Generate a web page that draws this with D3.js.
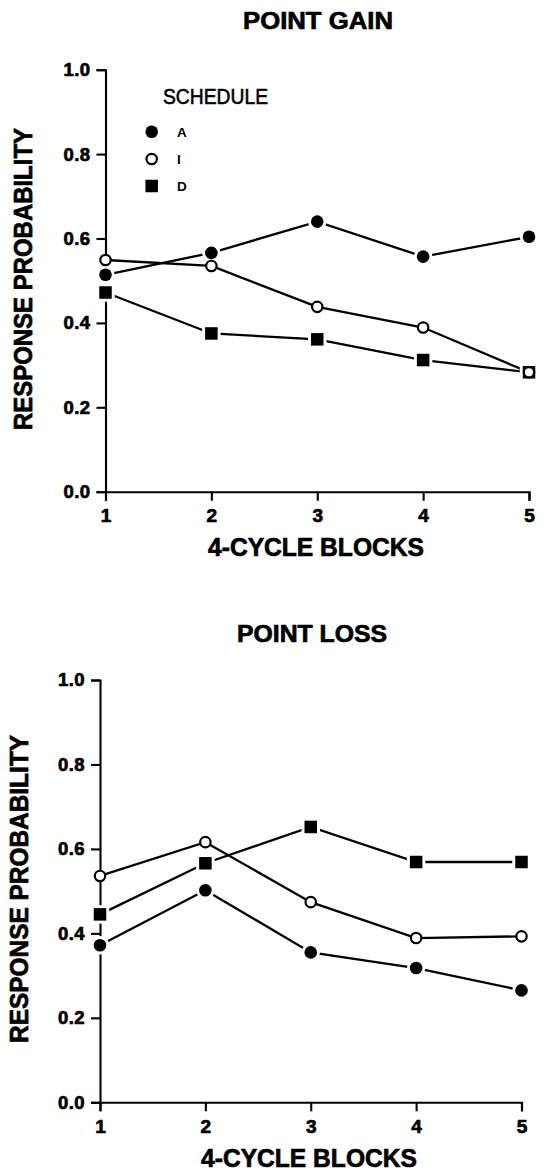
<!DOCTYPE html>
<html>
<head>
<meta charset="utf-8">
<script src="https://cdn.jsdelivr.net/npm/d3@7"></script>
<style>
  body { margin: 0; background: #fff; }
  svg { display: block; }
  text { font-family: "Liberation Sans", Arial, sans-serif; fill: #000; }
  .heavy { stroke: #000; stroke-width: 0.7; }
</style>
</head>
<body>
<div class="container"></div>
<script>
// data
const blocks = [1, 2, 3, 4, 5];
const schedules = ["A", "I", "D"];
const yTicks = [0, 0.2, 0.4, 0.6, 0.8, 1.0];

const gainA = [0.514, 0.566, 0.640, 0.557, 0.604];
const gainI = [0.549, 0.535, 0.438, 0.389, 0.283];
const gainD = [0.472, 0.375, 0.361, 0.312, 0.283];

const lossA = [0.372, 0.502, 0.355, 0.318, 0.265];
const lossI = [0.536, 0.616, 0.474, 0.389, 0.393];
const lossD = [0.445, 0.566, 0.652, 0.569, 0.569];

const W = 547, H = 1173;

const svg = d3.select(".container")
  .append("svg")
  .attr("width", W)
  .attr("height", H);

// marker style per schedule
const markerType = { A: "dot", I: "ring", D: "square" };

function drawMarker(g, type, x, y, halo) {
  if (type == "dot") {
    if (halo) g.append("circle").attr("cx", x).attr("cy", y).attr("r", 9.2).attr("fill", "#fff");
    g.append("circle").attr("cx", x).attr("cy", y).attr("r", 6.3).attr("fill", "#000");
  } else if (type == "ring") {
    g.append("circle").attr("cx", x).attr("cy", y).attr("r", 5.2)
      .attr("fill", "#fff").attr("stroke", "#000").attr("stroke-width", 2.2);
  } else {
    const s = 12.5;
    if (halo) g.append("rect").attr("x", x - s / 2 - 3).attr("y", y - s / 2 - 3)
      .attr("width", s + 6).attr("height", s + 6).attr("fill", "#fff");
    g.append("rect").attr("x", x - s / 2).attr("y", y - s / 2)
      .attr("width", s).attr("height", s).attr("fill", "#000");
  }
}

function panel(opt) {
  const x = d3.scaleLinear().domain([1, 5]).range(opt.xr);
  const y = d3.scaleLinear().domain([0, 1]).range(opt.yr);
  const g = svg.append("g");

  // axes
  const yAxis = d3.axisLeft(y).tickValues(yTicks).tickFormat(d3.format(".1f"))
    .tickSize(9).tickSizeOuter(9).tickPadding(6);
  const ya = g.append("g").attr("transform", `translate(${opt.xr[0]},0)`).call(yAxis);

  const xAxis = d3.axisBottom(x).tickValues(blocks).tickFormat(d3.format("d"))
    .tickSize(9).tickSizeOuter(9).tickPadding(8);
  const xa = g.append("g").attr("transform", `translate(0,${opt.yr[0]})`).call(xAxis);

  [ya, xa].forEach(a => {
    a.attr("font-family", null).attr("font-size", null);
    a.selectAll("path, line").attr("stroke", "#000").attr("stroke-width", 2.1);
  });
  ya.selectAll("text").attr("class", "heavy").attr("font-size", 18.5)
    .attr("font-weight", "bold").attr("letter-spacing", 0.4);
  xa.selectAll("text").attr("class", "heavy").attr("font-size", 19).attr("font-weight", "bold");

  // titles
  g.append("text").attr("class", "heavy").attr("x", opt.titleX).attr("y", opt.titleY)
    .attr("text-anchor", "middle").attr("font-size", 24).attr("font-weight", "bold")
    .attr("textLength", 150).attr("lengthAdjust", "spacingAndGlyphs")
    .text(opt.title);

  g.append("text").attr("class", "heavy").attr("x", opt.xTitleX).attr("y", opt.xTitleY)
    .attr("text-anchor", "middle").attr("font-size", 26).attr("font-weight", "bold")
    .attr("textLength", 216).attr("lengthAdjust", "spacingAndGlyphs")
    .text("4-CYCLE BLOCKS");

  g.append("text").attr("class", "heavy")
    .attr("transform", `translate(${opt.yTitleX},${opt.yTitleY}) rotate(-90)`)
    .attr("text-anchor", "middle").attr("font-size", 26).attr("font-weight", "bold")
    .attr("textLength", opt.yTitleLen).attr("lengthAdjust", "spacingAndGlyphs")
    .text("RESPONSE PROBABILITY");

  // lines
  const line = d3.line().x((d, i) => x(blocks[i])).y(d => y(d));
  opt.series.forEach(s => {
    g.append("path").datum(s.values)
      .attr("d", line).attr("fill", "none")
      .attr("stroke", "#000").attr("stroke-width", 2.3);
  });

  // markers
  opt.series.forEach(s => {
    s.values.forEach((v, i) => drawMarker(g, markerType[s.name], x(blocks[i]), y(v), true));
  });
}

panel({
  title: "POINT GAIN", titleX: 318, titleY: 29,
  xr: [105.5, 529], yr: [491.7, 69.7],
  xTitleX: 316, xTitleY: 556,
  yTitleX: 32, yTitleY: 279, yTitleLen: 302,
  series: [
    { name: "A", values: gainA },
    { name: "D", values: gainD },
    { name: "I", values: gainI }
  ]
});

panel({
  title: "POINT LOSS", titleX: 312, titleY: 642,
  xr: [100, 521.5], yr: [1102.3, 680],
  xTitleX: 309, xTitleY: 1167,
  yTitleX: 28, yTitleY: 889, yTitleLen: 308,
  series: [
    { name: "A", values: lossA },
    { name: "D", values: lossD },
    { name: "I", values: lossI }
  ]
});

// legend (top panel)
const leg = svg.append("g");
leg.append("text").attr("x", 163).attr("y", 104)
  .attr("font-size", 22).attr("textLength", 105).attr("lengthAdjust", "spacingAndGlyphs")
  .attr("stroke", "#000").attr("stroke-width", 0.6)
  .text("SCHEDULE");
schedules.forEach((s, i) => {
  const ly = [131.7, 159, 186][i];
  drawMarker(leg, markerType[s], 151.7, ly, false);
  leg.append("text").attr("x", 177).attr("y", ly + 5)
    .attr("font-size", 13.5).attr("font-weight", "bold").text(s);
});
</script>
</body>
</html>
